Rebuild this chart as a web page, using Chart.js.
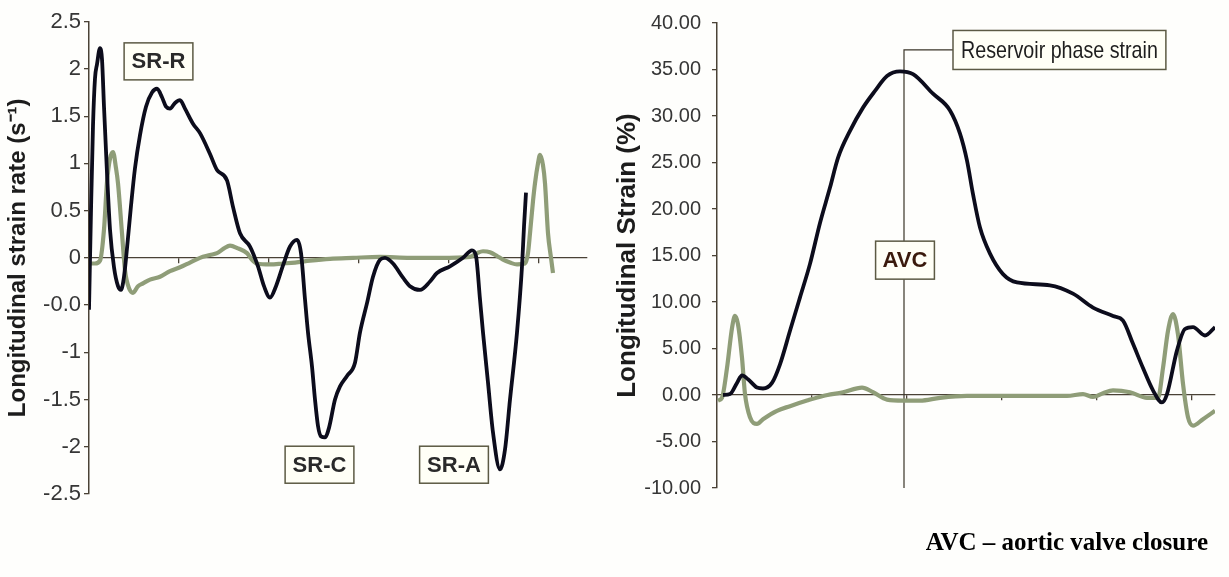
<!DOCTYPE html>
<html><head><meta charset="utf-8">
<script src="https://cdn.jsdelivr.net/npm/chart.js@4.4.1/dist/chart.umd.min.js"></script>
<style>
html,body{margin:0;padding:0;background:#fefefc;}
#wrap{position:relative;width:1229px;height:577px;overflow:hidden;background:#fefefc;}
#c1{position:absolute;left:0;top:0;width:600px;height:577px;}
#c2{position:absolute;left:590px;top:0;width:639px;height:577px;}
#note{position:absolute;right:21px;top:528px;font:bold 25px "Liberation Serif","Times New Roman",serif;line-height:28px;color:#000;white-space:nowrap;}
</style></head><body>
<div id="wrap">
<canvas id="c1" width="600" height="577"></canvas>
<canvas id="c2" width="639" height="577"></canvas>
<div id="note">AVC – aortic valve closure</div>
</div>
<script>
// ---------- LEFT: strain rate ----------
const leftBlackT = [0,2,4,6,8,11,13,15,18,21,25,29,32,35,38,42,46,51,57,63,68,73,77,81,86,91,96,104,111,121,128,138,144,151,161,169,175,181,187,194,201,208,212,216,219,223,226,229,232,236,240,246,251,258,266,271,278,284,291,296,304,314,321,331,341,348,361,374,383,387,391,394,399,404,411,416,421,428,433,435,437];
const leftBlackV = [-0.55,0.5,1.4,1.9,2.05,2.22,2.1,1.6,0.9,0.3,-0.1,-0.3,-0.34,-0.2,0.1,0.55,0.95,1.3,1.6,1.75,1.79,1.7,1.6,1.58,1.64,1.67,1.58,1.42,1.32,1.1,0.93,0.82,0.54,0.26,0.12,-0.09,-0.3,-0.42,-0.3,-0.08,0.12,0.19,0.05,-0.44,-0.79,-1.15,-1.5,-1.78,-1.89,-1.9,-1.8,-1.5,-1.36,-1.25,-1.11,-0.79,-0.48,-0.2,-0.02,0.0,-0.06,-0.21,-0.3,-0.34,-0.25,-0.16,-0.09,0.0,0.08,0.02,-0.44,-0.79,-1.32,-1.85,-2.24,-2.03,-1.5,-0.79,-0.09,0.33,0.69];
const leftGreenT = [0,6,11,15,18,21,24,27,29,33,36,40,44,49,54,61,71,81,91,101,111,121,128,135,141,149,158,163,168,181,194,206,221,241,264,291,321,351,381,388,394,401,408,414,421,428,436,439,441,444,446,449,451,454,456,459,462,464];
const leftGreenV = [-0.06,-0.06,-0.03,0.3,0.8,1.05,1.12,0.95,0.79,0.26,-0.13,-0.32,-0.37,-0.3,-0.27,-0.23,-0.2,-0.14,-0.1,-0.05,0.0,0.03,0.05,0.1,0.13,0.1,0.05,-0.02,-0.06,-0.07,-0.06,-0.05,-0.03,-0.01,0.0,0.01,0.0,0.0,0.01,0.05,0.07,0.06,0.02,-0.02,-0.05,-0.07,-0.06,0.05,0.26,0.6,0.79,1.0,1.09,0.98,0.79,0.26,0.0,-0.16];
const leftTickValues = [2.5,2,1.5,1,0.5,0,-0.5,-1,-1.5,-2,-2.5];
const leftTickLabels = ['2.5','2','1.5','1','0.5','0','-0.0','-1','-1.5','-2','-2.5'];
const leftXTicks = [0,90,180,270,360,450];
const leftLabels = ['SR-R','SR-C','SR-A'];

// ---------- RIGHT: strain ----------
const rightBlackT = [6,13,20,25,31,40,46,55,63,73,83,93,103,113,121,133,146,158,170,183,196,216,233,243,250,256,263,273,286,300,333,356,376,396,406,416,426,436,445,450,460,468,476,488,498];
const rightBlackV = [0,0.1,1.3,2.1,1.7,0.8,0.7,1.3,3.3,6.9,10.5,14.1,18.5,22.3,25.5,28.4,30.9,32.7,34.3,34.8,34.5,32.4,30.6,28.1,25.2,21.6,18.0,15.2,13.0,12.1,11.8,10.9,9.4,8.5,8.0,5.5,2.9,0.5,-0.8,0.1,4.8,7.1,7.3,6.4,7.3];
const rightGreenT = [1,5,10,15,18,21,25,28,33,40,46,60,73,90,106,126,145,156,170,186,203,223,250,283,313,350,366,376,386,396,413,430,441,446,451,456,461,466,471,476,486,498];
const rightGreenV = [-0.6,-0.3,2.9,7.2,8.5,7.6,4.0,0.1,-2.4,-3.1,-2.6,-1.7,-1.2,-0.6,-0.1,0.3,0.8,0.3,-0.5,-0.6,-0.6,-0.3,-0.1,-0.1,-0.1,-0.1,0.1,-0.2,0.2,0.5,0.3,-0.3,-0.3,2.9,6.9,8.7,6.5,1.2,-2.4,-3.3,-2.6,-1.7];
const rightTickValues = [40,35,30,25,20,15,10,5,0,-5,-10];
const rightTickLabels = ['40.00','35.00','30.00','25.00','20.00','15.00','10.00','5.00','0.00','-5.00','-10.00'];
const rightXTicks = [0,95,190,285,380,475];
const rightLabels = ['AVC','Reservoir phase strain'];

// ---------- styles ----------
const axisColor = '#4a4236';
const blackColor = '#0c0c1c';
const greenColor = '#8f9d78';
const tickColor = '#363636';

const annotate = {
  id:'annotate',
  beforeDatasetsDraw(chart, args, opts){
    const ctx = chart.ctx, xs = chart.scales.x, ys = chart.scales.y;
    (opts.lines||[]).forEach(l=>{
      ctx.save(); ctx.strokeStyle=l.color; ctx.lineWidth=l.width; ctx.beginPath();
      l.points.forEach((p,i)=>{const px=xs.getPixelForValue(p[0]), py=ys.getPixelForValue(p[1]); if(i) ctx.lineTo(px,py); else ctx.moveTo(px,py);});
      ctx.stroke(); ctx.restore();
    });
  },
  afterDatasetsDraw(chart, args, opts){
    const ctx = chart.ctx, xs = chart.scales.x, ys = chart.scales.y;
    (opts.boxes||[]).forEach(b=>{
      ctx.save();
      ctx.font = b.font;
      const sx = b.stretch || 1;
      const tw = ctx.measureText(b.text).width * sx;
      const w = tw + 2*b.padX;
      const h = b.height;
      let cx = xs.getPixelForValue(b.x);
      if (b.anchor === 'left') cx += w/2;
      const cy = ys.getPixelForValue(b.y);
      ctx.fillStyle = b.fill; ctx.fillRect(cx-w/2, cy-h/2, w, h);
      ctx.strokeStyle = b.border; ctx.lineWidth = b.borderWidth; ctx.strokeRect(cx-w/2, cy-h/2, w, h);
      ctx.fillStyle = b.color; ctx.textAlign='center'; ctx.textBaseline='middle';
      ctx.translate(cx, cy+1); ctx.scale(sx, 1);
      ctx.fillText(b.text, 0, 0);
      ctx.restore();
    });
  }
};

function pts(T,V){ return T.map((t,i)=>({x:t,y:V[i]})); }

function makeChart(id, o){
  return new Chart(document.getElementById(id), {
    type:'line',
    data:{datasets:[
      {data:pts(o.bT,o.bV), borderColor:blackColor, borderWidth:3.8, pointRadius:0, cubicInterpolationMode:'monotone', order:0},
      {data:pts(o.gT,o.gV), borderColor:greenColor, borderWidth:4.2, pointRadius:0, cubicInterpolationMode:'monotone', order:1}
    ]},
    options:{
      responsive:false, animation:false, events:[],
      layout:{padding:o.padding},
      plugins:{legend:{display:false}, tooltip:{enabled:false}, annotate:o.annot},
      scales:{
        x:{type:'linear', min:0, max:498, position:{y:0},
          afterBuildTicks:s=>{ s.ticks = o.xTicks.map(v=>({value:v})); },
          afterFit:s=>{ s.height = 0; },
          ticks:{display:false},
          grid:{drawOnChartArea:false, drawTicks:true, tickLength:5, color:axisColor, lineWidth:1.3},
          border:{display:true, color:axisColor, width:1.3}
        },
        y:{type:'linear', min:o.yMin, max:o.yMax, position:'left',
          afterBuildTicks:s=>{ s.ticks = o.yVals.map(v=>({value:v})); },
          afterFit:s=>{ s.width = o.yWidth; },
          ticks:{font:{family:'"Liberation Sans", Arial, sans-serif', size:o.tickSize}, color:tickColor, padding:o.tickPad,
            callback:(v)=>{ const i = o.yVals.findIndex(t=>Math.abs(t-v)<1e-9); return i>=0 ? o.yLabels[i] : ''; }},
          grid:{drawOnChartArea:false, drawTicks:true, tickLength:5, color:axisColor, lineWidth:1.3},
          border:{display:true, color:axisColor, width:1.5},
          title:{display:true, text:o.title, color:'#1c1c1c',
            font:{family:'"Liberation Sans", Arial, sans-serif', size:o.titleSize, weight:'bold'},
            padding:{top:o.titlePad, bottom:0}}
        }
      }
    },
    plugins:[annotate]
  });
}

const boxFont = 'bold 22px "Liberation Sans", Arial, sans-serif';
makeChart('c1', {
  bT:leftBlackT, bV:leftBlackV, gT:leftGreenT, gV:leftGreenV,
  xTicks:leftXTicks, yVals:leftTickValues, yLabels:leftTickLabels,
  yMin:-2.5, yMax:2.5, yWidth:89, tickPad:3, tickSize:22,
  title:'Longitudinal strain rate (s⁻¹)', titleSize:24, titlePad:4,
  padding:{left:0, right:13, top:21.7, bottom:83},
  annot:{boxes:[
    {text:leftLabels[0], x:69.5, y:2.08, font:boxFont, padX:7.5, height:37, fill:'#fffff6', border:'#5c5a44', borderWidth:1.5, color:'#2a2a2a'},
    {text:leftLabels[1], x:230.5, y:-2.19, font:boxFont, padX:7.5, height:37, fill:'#fffff6', border:'#5c5a44', borderWidth:1.5, color:'#2a2a2a'},
    {text:leftLabels[2], x:365, y:-2.19, font:boxFont, padX:7.5, height:37, fill:'#fffff6', border:'#5c5a44', borderWidth:1.5, color:'#2a2a2a'}
  ]}
});
makeChart('c2', {
  bT:rightBlackT, bV:rightBlackV, gT:rightGreenT, gV:rightGreenV,
  xTicks:rightXTicks, yVals:rightTickValues, yLabels:rightTickLabels,
  yMin:-10, yMax:40, yWidth:127, tickPad:11, tickSize:20,
  title:'Longitudinal Strain (%)', titleSize:26, titlePad:22,
  padding:{left:0, right:14, top:22.3, bottom:89},
  annot:{
    lines:[{points:[[187,-10],[187,37.1],[236,37.1]], color:'#3a3528', width:1.2}],
    boxes:[
      {text:rightLabels[0], x:188, y:14.5, font:boxFont, padX:7, height:38, fill:'#fffff6', border:'#5c5a44', borderWidth:1.5, color:'#3a1a0c'},
      {text:rightLabels[1], x:236, y:37.1, anchor:'left', stretch:0.82, font:'24px "Liberation Sans", Arial, sans-serif', padX:8, height:39, fill:'#fffff6', border:'#5c5a44', borderWidth:1.5, color:'#1e1e1e'}
    ]}
});
</script>
</body></html>
